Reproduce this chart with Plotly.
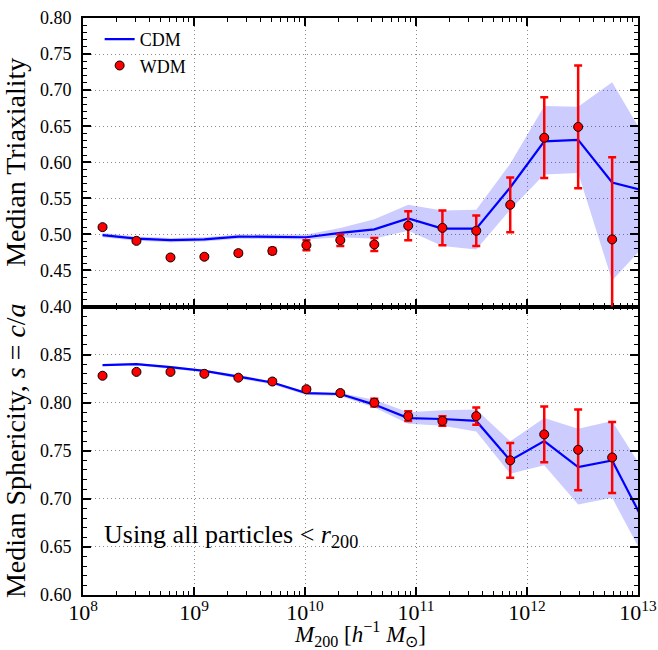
import plotly.graph_objects as go

# Halo mass bin centres [h^-1 Msun]
mass = [1.50e8, 3.03e8, 6.14e8, 1.24e9, 2.51e9, 5.08e9, 1.03e10, 2.08e10,
        4.21e10, 8.51e10, 1.73e11, 3.49e11, 7.06e11, 1.43e12, 2.89e12, 5.85e12]
mass_cdm = mass + [1.18e13]

# x tick positions and labels
x_tickvals = [1e8, 1e9, 1e10, 1e11, 1e12, 1e13]
x_ticktext = ["10<sup>8</sup>", "10<sup>9</sup>", "10<sup>10</sup>",
              "10<sup>11</sup>", "10<sup>12</sup>", "10<sup>13</sup>"]

# Top panel: median triaxiality
wdm_triax = [0.510, 0.491, 0.468, 0.469, 0.474, 0.477, 0.485, 0.492,
             0.486, 0.512, 0.509, 0.505, 0.541, 0.634, 0.649, 0.493]
wdm_triax_err = [0.002, 0.002, 0.002, 0.002, 0.003, 0.004, 0.007, 0.008,
                 0.009, 0.020, 0.024, 0.021, 0.038, 0.056, 0.085, 0.114]
cdm_triax = [0.499, 0.494, 0.492, 0.493, 0.497, 0.497, 0.496, 0.502,
             0.507, 0.522, 0.508, 0.508, 0.565, 0.629, 0.631, 0.572, 0.560]
cdm_triax_hi = [0.502, 0.497, 0.495, 0.496, 0.500, 0.500, 0.500, 0.509,
                0.521, 0.541, 0.533, 0.534, 0.598, 0.678, 0.677, 0.711, 0.631]
cdm_triax_lo = [0.496, 0.491, 0.489, 0.490, 0.494, 0.494, 0.493, 0.496,
                0.494, 0.505, 0.484, 0.479, 0.534, 0.583, 0.585, 0.436, 0.487]

# Bottom panel: median sphericity s = c/a
wdm_sph = [0.828, 0.832, 0.832, 0.830, 0.826, 0.822, 0.814, 0.810,
           0.800, 0.786, 0.781, 0.786, 0.740, 0.767, 0.751, 0.743]
wdm_sph_err = [0.001, 0.001, 0.001, 0.001, 0.001, 0.002, 0.002, 0.002,
               0.004, 0.005, 0.005, 0.009, 0.018, 0.029, 0.042, 0.037]
cdm_sph = [0.839, 0.840, 0.837, 0.833, 0.827, 0.821, 0.810, 0.809,
           0.798, 0.784, 0.783, 0.781, 0.740, 0.760, 0.733, 0.740, 0.672]
cdm_sph_hi = [0.840, 0.841, 0.838, 0.834, 0.829, 0.822, 0.811, 0.810,
              0.803, 0.790, 0.792, 0.793, 0.760, 0.784, 0.773, 0.781, 0.725]
cdm_sph_lo = [0.838, 0.839, 0.835, 0.832, 0.825, 0.819, 0.808, 0.807,
              0.795, 0.778, 0.776, 0.770, 0.726, 0.735, 0.694, 0.701, 0.635]

FONT = "Liberation Serif"
BAND = "rgba(0,0,255,0.2)"

fig = go.Figure()


def add_panel(xa, ya, cdm, lo, hi, wdm, err, legend):
    fig.add_trace(go.Scatter(x=mass_cdm, y=lo, mode="lines", line=dict(width=0),
                             showlegend=False, hoverinfo="skip", xaxis=xa, yaxis=ya))
    fig.add_trace(go.Scatter(x=mass_cdm, y=hi, mode="lines", line=dict(width=0),
                             fill="tonexty", fillcolor=BAND, showlegend=False,
                             hoverinfo="skip", xaxis=xa, yaxis=ya))
    fig.add_trace(go.Scatter(x=mass_cdm, y=cdm, mode="lines", name="CDM",
                             line=dict(color="#0000ff", width=2.2),
                             showlegend=legend, xaxis=xa, yaxis=ya))
    fig.add_trace(go.Scatter(x=mass, y=wdm, mode="markers", name="WDM",
                             marker=dict(color="#ff0000", size=9,
                                         line=dict(color="black", width=1)),
                             error_y=dict(type="data", array=err, color="#ff0000",
                                          thickness=2.5, width=4),
                             showlegend=legend, xaxis=xa, yaxis=ya))


add_panel("x2", "y2", cdm_triax, cdm_triax_lo, cdm_triax_hi, wdm_triax, wdm_triax_err, True)
add_panel("x", "y", cdm_sph, cdm_sph_lo, cdm_sph_hi, wdm_sph, wdm_sph_err, False)

axis_common = dict(
    showline=True, linecolor="black", linewidth=1.6, mirror="allticks",
    ticks="inside", ticklen=8, tickwidth=1.5, tickcolor="black",
    showgrid=True, gridcolor="#8c8c8c", griddash="1px,3px", gridwidth=1,
    zeroline=False, automargin=False,
)

x_common = dict(axis_common, type="log", range=[8, 13], tickmode="array",
                tickvals=x_tickvals, ticktext=x_ticktext,
                tickfont=dict(family=FONT, size=22, color="black"),
                minor=dict(ticks="inside", ticklen=4, tickwidth=1,
                           tickcolor="black", tickmode="linear", dtick="D1",
                           showgrid=False))

y_minor = dict(ticks="inside", ticklen=4, tickwidth=1, tickcolor="black",
               tickmode="linear", tick0=0, dtick=0.01, showgrid=False)

fig.update_layout(
    width=658, height=650, autosize=False,
    margin=dict(l=83, r=20, t=18, b=55),
    paper_bgcolor="white", plot_bgcolor="white",
    font=dict(family=FONT, color="black"),
    xaxis=dict(x_common, anchor="y", domain=[0, 1], ticklabelstandoff=-3,
               title=dict(text="<i>M</i><sub>200</sub> [<i>h</i><sup>−1</sup> <i>M</i><sub>⊙</sub>]",
                          font=dict(family=FONT, size=23), standoff=8)),
    xaxis2=dict(x_common, anchor="y2", matches="x", showticklabels=False),
    yaxis=dict(axis_common, domain=[0, 0.5], range=[0.60, 0.90],
               tickmode="array", tickvals=[0.60, 0.65, 0.70, 0.75, 0.80, 0.85],
               tickformat=".2f", ticklabelstandoff=6,
               tickfont=dict(family=FONT, size=18, color="black"),
               minor=y_minor,
               title=dict(text="Median Sphericity, <i>s</i> = <i>c</i>/<i>a</i>",
                          font=dict(family=FONT, size=28), standoff=8)),
    yaxis2=dict(axis_common, domain=[0.5, 1], range=[0.40, 0.80],
                tickmode="linear", tick0=0, dtick=0.05, tickformat=".2f",
                ticklabelstandoff=6,
                tickfont=dict(family=FONT, size=18, color="black"),
                minor=y_minor,
                title=dict(text="Median Triaxiality",
                           font=dict(family=FONT, size=28), standoff=8)),
    legend=dict(x=0.03, y=0.995, xanchor="left", yanchor="top",
                traceorder="normal", bgcolor="rgba(0,0,0,0)",
                font=dict(family=FONT, size=18), tracegroupgap=0),
    showlegend=True,
)

fig.add_annotation(text="Using all particles &lt; <i>r</i><sub>200</sub>",
                   xref="x domain", yref="y", x=0.035, y=0.661,
                   xanchor="left", yanchor="middle", showarrow=False,
                   font=dict(family=FONT, size=26, color="black"))

fig.write_html("out.html", config={"displayModeBar": False},
               post_script="document.body.style.margin='0';document.body.style.overflow='hidden';")
